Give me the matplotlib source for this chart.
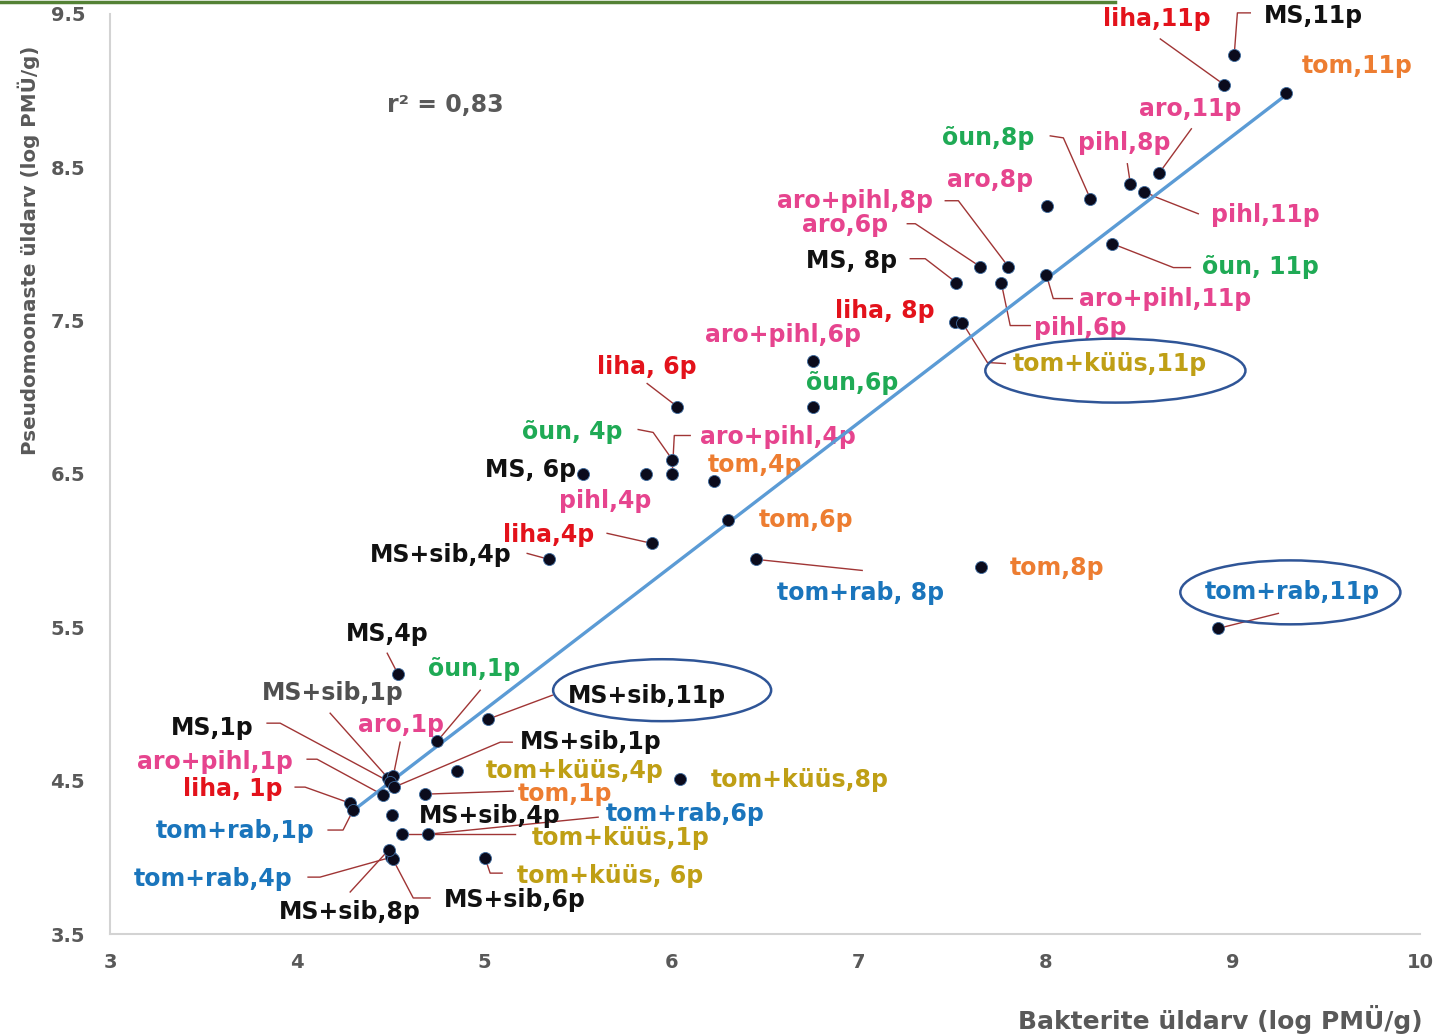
import numpy as np
import matplotlib.pyplot as plt
from matplotlib.patches import Ellipse
from matplotlib.lines import Line2D

# Data: total bacteria (x) vs Pseudomonas (y), log PMÜ/g
labels = ["MS,11p", "liha,11p", "tom,11p", "aro,11p", "pihl,8p", "õun,8p", "aro,8p",
          "pihl,11p", "aro+pihl,8p", "aro,6p", "MS, 8p", "pihl,6p", "aro+pihl,11p",
          "õun, 11p", "liha, 8p", "tom+küüs,11p", "aro+pihl,6p", "õun,6p", "liha, 6p",
          "õun, 4p", "aro+pihl,4p", "MS, 6p", "tom,4p", "pihl,4p", "tom,6p", "liha,4p",
          "MS+sib,4p", "tom+rab, 8p", "tom,8p", "tom+rab,11p", "MS,4p", "õun,1p",
          "MS+sib,1p", "MS+sib,11p", "aro,1p", "MS,1p", "MS+sib,1p", "aro+pihl,1p",
          "tom+küüs,4p", "liha, 1p", "tom,1p", "tom+küüs,8p", "tom+rab,1p", "MS+sib,4p",
          "tom+rab,6p", "tom+küüs,1p", "tom+rab,4p", "tom+küüs, 6p", "MS+sib,6p", "MS+sib,8p"]
bact = [9.007, 8.954, 9.285, 8.607, 8.452, 8.238, 8.008, 8.526, 7.800, 7.650, 7.522, 7.762,
        8.003, 8.355, 7.516, 7.554, 6.757, 6.757, 6.030, 6.004, 6.004, 5.528, 6.228, 5.865,
        6.303, 5.897, 5.346, 6.453, 7.655, 8.922, 4.539, 4.748, 4.486, 5.020, 4.513, 4.497,
        4.518, 4.459, 4.855, 4.283, 4.684, 6.047, 4.299, 4.507, 4.700, 4.561, 4.500, 5.004,
        4.510, 4.490]
pseudo = [9.233, 9.038, 8.985, 8.464, 8.393, 8.295, 8.249, 8.341, 7.852, 7.852, 7.748, 7.748,
          7.800, 8.002, 7.493, 7.487, 7.239, 6.940, 6.940, 6.594, 6.503, 6.503, 6.451, 6.503,
          6.197, 6.047, 5.943, 5.943, 5.891, 5.493, 5.194, 4.757, 4.516, 4.901, 4.529, 4.490,
          4.458, 4.406, 4.562, 4.353, 4.412, 4.510, 4.308, 4.275, 4.151, 4.151, 4.000, 3.995,
          3.990, 4.050]

group_colors = {"MS": "#111111", "MS+sib": "#111111", "liha": "#e3121b", "tom": "#ed7d31",
                "aro": "#e6448e", "pihl": "#e6448e", "aro+pihl": "#e6448e", "õun": "#1faa55",
                "tom+küüs": "#bf9f15", "tom+rab": "#1a75bc"}
colors = [group_colors[l.split(",")[0]] for l in labels]
colors[32] = "#505050"  # the grey MS+sib,1p label

# label text positions (data coords)
label_pos = [(9.430, 9.487), (8.596, 9.468), (9.665, 9.162), (8.773, 8.881), (8.420, 8.660),
             (7.693, 8.692), (7.704, 8.419), (9.173, 8.191), (6.982, 8.282), (6.929, 8.126),
             (6.961, 7.891), (8.185, 7.455), (8.639, 7.644), (9.147, 7.852), (7.142, 7.565),
             (8.345, 7.214), (6.597, 7.409), (6.966, 7.096), (5.870, 7.200), (5.469, 6.771),
             (6.570, 6.738), (5.245, 6.523), (6.448, 6.556), (5.646, 6.327), (6.720, 6.197),
             (5.341, 6.099), (4.769, 5.969), (7.009, 5.722), (8.062, 5.885), (9.318, 5.728),
             (4.481, 5.455), (4.946, 5.226), (4.192, 5.070), (5.870, 5.051), (4.555, 4.862),
             (3.545, 4.842), (5.571, 4.751), (3.561, 4.621), (5.485, 4.562), (3.657, 4.445),
             (5.432, 4.412), (6.688, 4.503), (3.668, 4.171), (5.031, 4.269), (6.073, 4.282),
             (5.726, 4.125), (3.551, 3.858), (5.673, 3.878), (5.165, 3.722), (4.283, 3.643)]

# leader line waypoints from label towards its point
leaders = [[(9.093, 9.507), (9.024, 9.507)], [(8.612, 9.337)], None, [(8.778, 8.751)],
           [(8.436, 8.523)], [(8.024, 8.705), (8.094, 8.692)], None,
           [(8.815, 8.197), (8.596, 8.302)], [(7.463, 8.282), (7.533, 8.282)],
           [(7.260, 8.132), (7.303, 8.132)], [(7.276, 7.904), (7.356, 7.904)],
           [(7.917, 7.468), (7.810, 7.468)], [(8.142, 7.644), (8.040, 7.644)],
           [(8.773, 7.846), (8.682, 7.846)], None, [(7.784, 7.220), (7.688, 7.227)],
           None, None, [(5.870, 7.090)], [(5.822, 6.790), (5.902, 6.771)],
           [(6.100, 6.751), (6.015, 6.751)], None, None, None, None, [(5.656, 6.113)],
           [(5.229, 5.982)], [(7.019, 5.871)], None, [(9.243, 5.591)], [(4.481, 5.331)],
           [(4.978, 5.090)], [(4.176, 4.940)], [(5.363, 5.057)], [(4.550, 4.751)],
           [(3.839, 4.875), (3.909, 4.875)], [(5.149, 4.751), (5.085, 4.751)],
           [(4.053, 4.640), (4.106, 4.640)], None, [(3.989, 4.458), (4.042, 4.458)],
           [(5.154, 4.432)], None, [(4.165, 4.178), (4.245, 4.178)], None,
           [(5.608, 4.262)], [(5.165, 4.151)], [(4.058, 3.871), (4.122, 3.871)],
           [(5.095, 3.897), (5.031, 3.897)], [(4.710, 3.735), (4.620, 3.735)],
           [(4.283, 3.774)]]

fig = plt.figure(figsize=(14.37, 10.34), dpi=100)
ax = fig.add_axes([0.0766, 0.0967, 0.9116, 0.8898])
ax.set_xlim(3, 10)
ax.set_ylim(3.5, 9.5)

grey = "#595959"
for side in ["top", "right"]:
    ax.spines[side].set_visible(False)
for side in ["left", "bottom"]:
    ax.spines[side].set_color("#d3d3d3")
    ax.spines[side].set_linewidth(1.5)
ax.set_xticks(range(3, 11))
ax.set_yticks(np.arange(3.5, 9.6, 1.0))
ax.set_yticklabels([f"{v:.1f}" for v in np.arange(3.5, 9.6, 1.0)])
ax.tick_params(length=0, labelsize=14, labelcolor=grey)
ax.tick_params(axis="x", pad=14)
ax.tick_params(axis="y", pad=18)
for t in ax.get_xticklabels() + ax.get_yticklabels():
    t.set_fontweight("bold")

# leader lines
for (px, py), pts in zip(zip(bact, pseudo), leaders):
    if pts is None:
        continue
    xs = [p[0] for p in pts] + [px]
    ys = [p[1] for p in pts] + [py]
    ax.plot(xs, ys, color="#a03535", lw=1.0, zorder=2, clip_on=False)

# labels
for lab, (tx, ty), c in zip(labels, label_pos, colors):
    ax.text(tx, ty, lab, color=c, fontsize=17, fontweight="bold",
            ha="center", va="center", zorder=3, clip_on=False)

# linear trend
slope, icpt = np.polyfit(bact, pseudo, 1)
xl = np.array([min(bact), max(bact)])
ax.plot(xl, slope * xl + icpt, color="#5b9bd5", lw=2.4, zorder=4)

ax.scatter(bact, pseudo, s=75, color="#0b0b1c", edgecolors="#3d6a9e",
           linewidths=0.6, zorder=5, clip_on=False)

# highlighted labels
for cx, cy, w, h in [(8.372, 7.174, 1.390, 0.417), (9.307, 5.728, 1.176, 0.417),
                     (5.950, 5.090, 1.165, 0.404)]:
    ax.add_patch(Ellipse((cx, cy), w, h, fill=False, edgecolor="#2f5597",
                         lw=1.8, zorder=6, clip_on=False))

ax.text(4.791, 8.907, "r² = 0,83", color=grey, fontsize=17,
        fontweight="bold", ha="center", va="center")

fig.text(0.02, 0.758, "Pseudomoonaste üldarv (log PMÜ/g)", rotation=90, color=grey,
         fontsize=14.3, fontweight="bold", ha="center", va="center")
fig.text(0.849, 0.014, "Bakterite üldarv (log PMÜ/g)", color=grey,
         fontsize=18, fontweight="bold", ha="center", va="center")

fig.add_artist(Line2D([0, 0.776], [0.9985, 0.9985], color="#548235", lw=2.5))

fig.savefig("out.png", dpi=100)
